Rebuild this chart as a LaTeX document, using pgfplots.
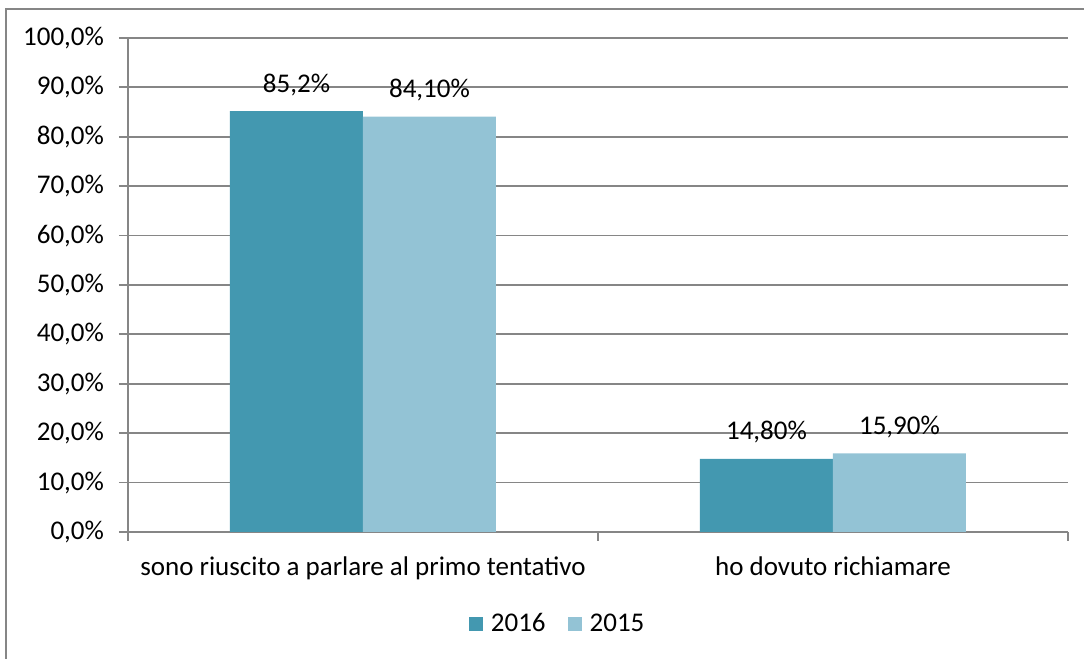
\documentclass[border=0pt]{standalone}
\usepackage{pgfplots}
\pgfplotsset{compat=1.18}
\usepackage{fontspec}
\setmainfont{Carlito}
\definecolor{c16}{HTML}{4398B0}
\definecolor{c15}{HTML}{93C3D5}
\definecolor{gridc}{HTML}{868686}
\newcommand\ff{\fontsize{13.5pt}{15pt}\selectfont}
\begin{document}
\begin{tikzpicture}
\useasboundingbox (0pt,0pt) rectangle (542pt,329.5pt);
\draw[gridc, line width=1pt] (3pt,-10pt) -- (3pt,325pt) -- (560pt,325pt);
\begin{axis}[
  at={(64pt,63.5pt)}, anchor=south west,
  scale only axis, width=470pt, height=247pt,
  font=\ff,
  /pgf/number format/assume math mode=true,
  ymin=0, ymax=100,
  ytick={0,10,...,100},
  yticklabels={{0,0\%},{10,0\%},{20,0\%},{30,0\%},{40,0\%},{50,0\%},{60,0\%},{70,0\%},{80,0\%},{90,0\%},{100,0\%}},
  yticklabel style={xshift=-4pt},
  xmin=-0.5, xmax=1.5,
  xtick={-0.5,0.5,1.5}, xticklabels={},
  extra x ticks={0,1},
  extra x tick labels={sono riuscito a parlare al primo tentativo, ho dovuto richiamare},
  extra x tick style={major tick length=0pt, xticklabel style={yshift=-9pt}},
  axis x line*=bottom, axis y line*=left,
  axis line style={gridc, line width=0.9pt, -},
  tick style={gridc, line width=0.9pt},
  major tick length=4.5pt, tick align=outside,
  ymajorgrids, grid style={gridc, line width=0.9pt},
  ybar=0pt, bar width=66.5pt,
  nodes near coords, point meta=explicit symbolic,
  every node near coord/.append style={font=\ff, anchor=base, yshift=9.5pt, text=black},
  legend columns=2,
  legend style={at={(0.456,-0.186)}, anchor=center, draw=none, font=\ff,
    /tikz/every odd column/.append style={column sep=4pt},
    /tikz/every even column/.append style={column sep=11pt},
    nodes={inner xsep=0pt}},
  legend image code/.code={\fill[#1] (0pt,-3.5pt) rectangle (7pt,3.5pt);},
]
\addplot[fill=c16, draw=none] coordinates {(0,85.2) [85,2\%] (1,14.8) [14,80\%]};
\addplot[fill=c15, draw=none] coordinates {(0,84.1) [84,10\%] (1,15.9) [15,90\%]};
\legend{2016,2015}
\end{axis}
\end{tikzpicture}
\end{document}
